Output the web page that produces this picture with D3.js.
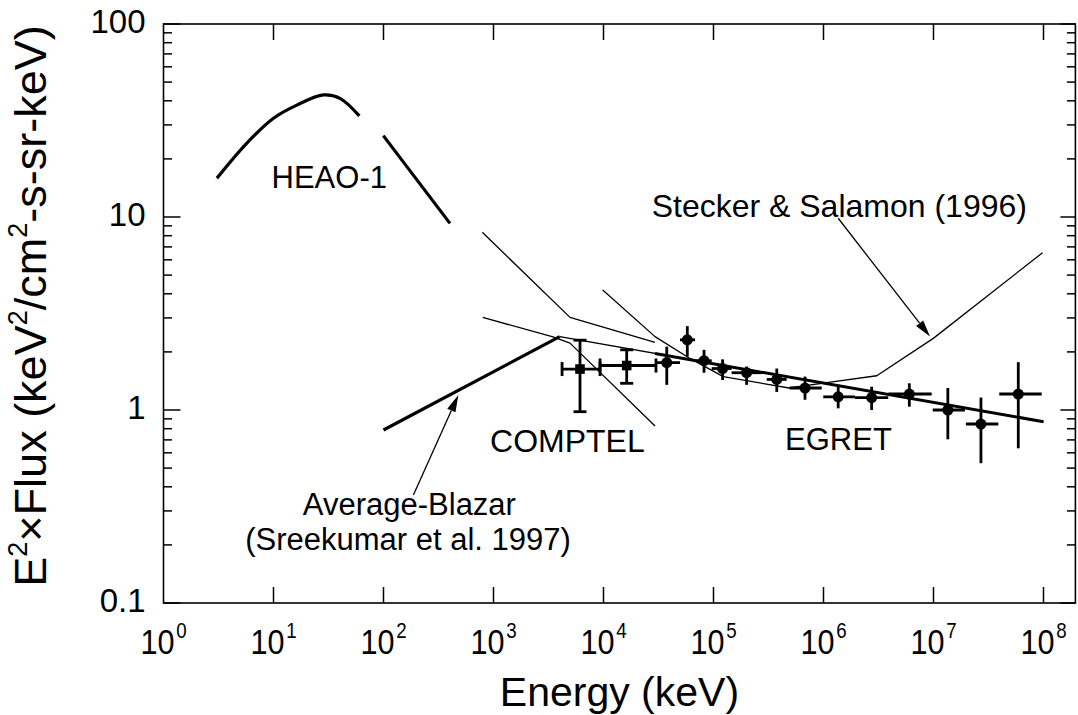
<!DOCTYPE html>
<html><head><meta charset="utf-8">
<script src="https://cdn.jsdelivr.net/npm/d3@7"></script>
<style>
body{margin:0;background:#fff}
text{font-family:"Liberation Sans",Arial,Helvetica,sans-serif;fill:#000}
</style>
</head><body>
<svg id="c" width="1078" height="715"></svg>
<script>
// ---------- data ----------
const xTickValues = [1,10,100,1e3,1e4,1e5,1e6,1e7,1e8];
const xTickExponents = ["0","1","2","3","4","5","6","7","8"];
const yTickValues = [0.1,1,10,100];
const yTickLabels = ["0.1","1","10","100"];
const xMax = 1.95e8;

// HEAO-1 (thick, two pieces)
const heaoA = [[3.06,15.9],[5.7,24.1],[10,32.5],[16.3,38.0],[28.4,42.9],[40.2,41.2],[60.3,33.4]];
const heaoB = [[99.6,26.4],[402,9.27]];
// Average blazar model (Sreekumar et al. 1997)
const blazarRise = [[100,0.788],[4000,2.40]];
const blazarPowerThin = [[4000,2.40],[1e8,0.87]];
const blazarPowerThick = [[29400,1.96],[1e8,0.87]];
// thin model curves
const modelA = [[791,8.33],[4960,3.02],[29400,2.24]];
const modelB = [[798,3.02],[3475,2.39],[4960,2.22],[29400,0.826]];
const steckerSalamon = [[9840,4.19],[29400,2.40],[61100,1.85],[122700,1.49],[486000,1.30],[1.07e6,1.385],[3.05e6,1.505],[9.96e6,2.35],[9.8e7,6.53]];

// COMPTEL
const comptelE   = [6115, 16250];
const comptelElo = [4200, 9300];
const comptelEhi = [9300, 30000];
const comptelF   = [1.63, 1.70];
const comptelFlo = [0.98, 1.375];
const comptelFhi = [2.30, 2.05];

// EGRET
const egretE   = [37600,57800,82000,121000,200000,376000,679000,1.36e6,2.74e6,6.03e6,1.35e7,2.70e7,5.9e7];
const egretElo = [29400,49600,70300,96300,146000,305000,492000,995000,1.93e6,3.88e6,9.84e6,1.97e7,3.96e7];
const egretEhi = [49600,67900,96300,146000,274000,462000,964000,1.93e6,3.88e6,9.63e6,1.93e7,3.88e7,9.63e7];
const egretF   = [1.76,2.31,1.80,1.64,1.56,1.44,1.30,1.17,1.16,1.21,1.00,0.846,1.21];
const egretFlo = [1.35,1.89,1.56,1.43,1.35,1.24,1.13,1.02,1.00,1.04,0.705,0.530,0.633];
const egretFhi = [2.13,2.72,2.05,1.83,1.68,1.64,1.49,1.35,1.32,1.375,1.30,1.16,1.77];

// annotations (data coordinates)
const labels = [
  {text:"HEAO-1", E:9.6, F:14.1, anchor:"start", size:31},
  {text:"Stecker & Salamon (1996)", E:27400, F:10.04, anchor:"start", size:32},
  {text:"COMPTEL", E:930, F:0.606, anchor:"start", size:32},
  {text:"EGRET", E:447000, F:0.62, anchor:"start", size:31},
  {text:"Average-Blazar", E:172, F:0.286, anchor:"middle", size:31},
  {text:"(Sreekumar et al. 1997)", E:167, F:0.188, anchor:"middle", size:31}
];
const arrows = [
  {from:[1.36e6,9.85], to:[9.3e6,2.40]},
  {from:[187,0.363], to:[479,1.196]}
];

// ---------- scales ----------
const svg = d3.select("#c");
const L = 163.5, R = 1075.4, T = 24, B = 603;
const x = d3.scaleLog().domain([1, xMax]).range([L, R]);
const y = d3.scaleLog().domain([0.1, 100]).range([B, T]);

const line = d3.line().x(d => x(d[0])).y(d => y(d[1]));

// ---------- frame & ticks ----------
svg.append("rect").attr("x",L).attr("y",T).attr("width",R-L).attr("height",B-T)
  .attr("fill","none").attr("stroke","#000").attr("stroke-width",1.6);

const ax = svg.append("g").attr("stroke","#000").attr("stroke-width",1.5);
xTickValues.slice(1).forEach(v => {
  ax.append("line").attr("x1",x(v)).attr("x2",x(v)).attr("y1",B).attr("y2",B-16);
  ax.append("line").attr("x1",x(v)).attr("x2",x(v)).attr("y1",T).attr("y2",T+16);
});
const yMinor = [];
for (let d = 0.1; d < 100; d *= 10) for (let k = 2; k <= 9; k++) yMinor.push(d*k);
yMinor.forEach(v => {
  ax.append("line").attr("x1",L).attr("x2",L+8.5).attr("y1",y(v)).attr("y2",y(v));
  ax.append("line").attr("x1",R).attr("x2",R-8.5).attr("y1",y(v)).attr("y2",y(v));
});
yTickValues.forEach(v => {
  ax.append("line").attr("x1",L).attr("x2",L+17).attr("y1",y(v)).attr("y2",y(v));
  ax.append("line").attr("x1",R).attr("x2",R-15).attr("y1",y(v)).attr("y2",y(v));
});

// y tick labels
yTickValues.forEach((v,i) => {
  svg.append("text").attr("x",L-18).attr("y",y(v)+9)
    .attr("text-anchor","end").attr("font-size",33).text(yTickLabels[i]);
});
// x tick labels (10^n)
xTickValues.forEach((v,i) => {
  const g = svg.append("g").attr("transform",`translate(${x(v)},654) scale(0.85,1)`);
  const t = g.append("text").attr("text-anchor","middle").attr("font-size",36);
  t.append("tspan").text("10");
  t.append("tspan").attr("dy",-16).attr("dx",2).attr("font-size",22).text(xTickExponents[i]);
});

// axis titles
svg.append("text").attr("x",(L+R)/2).attr("y",706).attr("text-anchor","middle")
  .attr("font-size",41).text("Energy (keV)");
{
  const t = svg.append("text").attr("transform","translate(46,306) rotate(-90)")
    .attr("text-anchor","middle").attr("font-size",45);
  const parts = [["E",0],["2",1],["×Flux (keV",0],["2",1],["/cm",0],["2",1],["-s-sr-keV)",0]];
  let up = false;
  parts.forEach(([s,sup]) => {
    const ts = t.append("tspan").text(s);
    if (sup) { ts.attr("font-size",27).attr("dy",-19); up = true; }
    else if (up) { ts.attr("dy",19); up = false; }
  });
}

// ---------- curves ----------
const g = svg.append("g").attr("fill","none").attr("stroke","#000").attr("stroke-linejoin","round");
[heaoA, heaoB].forEach(d => g.append("path").attr("d",line.curve(d3.curveCatmullRom)(d)).attr("stroke-width",3.2));
line.curve(d3.curveLinear);
g.append("path").attr("d",line(blazarRise)).attr("stroke-width",3.2);
g.append("path").attr("d",line(blazarPowerThin)).attr("stroke-width",1.4);
g.append("path").attr("d",line(blazarPowerThick)).attr("stroke-width",3.0);
[modelA, modelB, steckerSalamon].forEach(d => g.append("path").attr("d",line(d)).attr("stroke-width",1.3));

// ---------- data points ----------
const eb = svg.append("g").attr("stroke","#000").attr("stroke-width",2.8);
egretE.forEach((e,i) => {
  eb.append("line").attr("x1",x(egretElo[i])).attr("x2",x(egretEhi[i])).attr("y1",y(egretF[i])).attr("y2",y(egretF[i]));
  eb.append("line").attr("x1",x(e)).attr("x2",x(e)).attr("y1",y(egretFlo[i])).attr("y2",y(egretFhi[i]));
  svg.append("circle").attr("cx",x(e)).attr("cy",y(egretF[i])).attr("r",5.5).attr("fill","#000");
});
comptelE.forEach((e,i) => {
  const cx = x(e), cy = y(comptelF[i]);
  eb.append("line").attr("x1",x(comptelElo[i])).attr("x2",x(comptelEhi[i])).attr("y1",cy).attr("y2",cy);
  eb.append("line").attr("x1",cx).attr("x2",cx).attr("y1",y(comptelFlo[i])).attr("y2",y(comptelFhi[i]));
  [comptelElo[i], comptelEhi[i]].forEach(v => eb.append("line").attr("x1",x(v)).attr("x2",x(v)).attr("y1",cy-7).attr("y2",cy+7));
  [comptelFlo[i], comptelFhi[i]].forEach(v => eb.append("line").attr("x1",cx-6.5).attr("x2",cx+6.5).attr("y1",y(v)).attr("y2",y(v)));
  svg.append("rect").attr("x",cx-4.8).attr("y",cy-4.8).attr("width",9.6).attr("height",9.6).attr("fill","#000");
});

// ---------- annotations ----------
labels.forEach(l => svg.append("text").attr("x",x(l.E)).attr("y",y(l.F))
  .attr("text-anchor",l.anchor).attr("font-size",l.size).text(l.text));
arrows.forEach(a => {
  const x1 = x(a.from[0]), y1 = y(a.from[1]), x2 = x(a.to[0]), y2 = y(a.to[1]);
  const ang = Math.atan2(y2-y1, x2-x1), len = 17, hw = 4.5;
  const bx = x2 - len*Math.cos(ang), by = y2 - len*Math.sin(ang);
  svg.append("line").attr("x1",x1).attr("y1",y1).attr("x2",bx).attr("y2",by)
    .attr("stroke","#000").attr("stroke-width",1.3);
  const px = -Math.sin(ang)*hw, py = Math.cos(ang)*hw;
  svg.append("path").attr("d",`M${x2},${y2}L${bx+px},${by+py}L${bx-px},${by-py}Z`).attr("fill","#000");
});
</script>
</body></html>
